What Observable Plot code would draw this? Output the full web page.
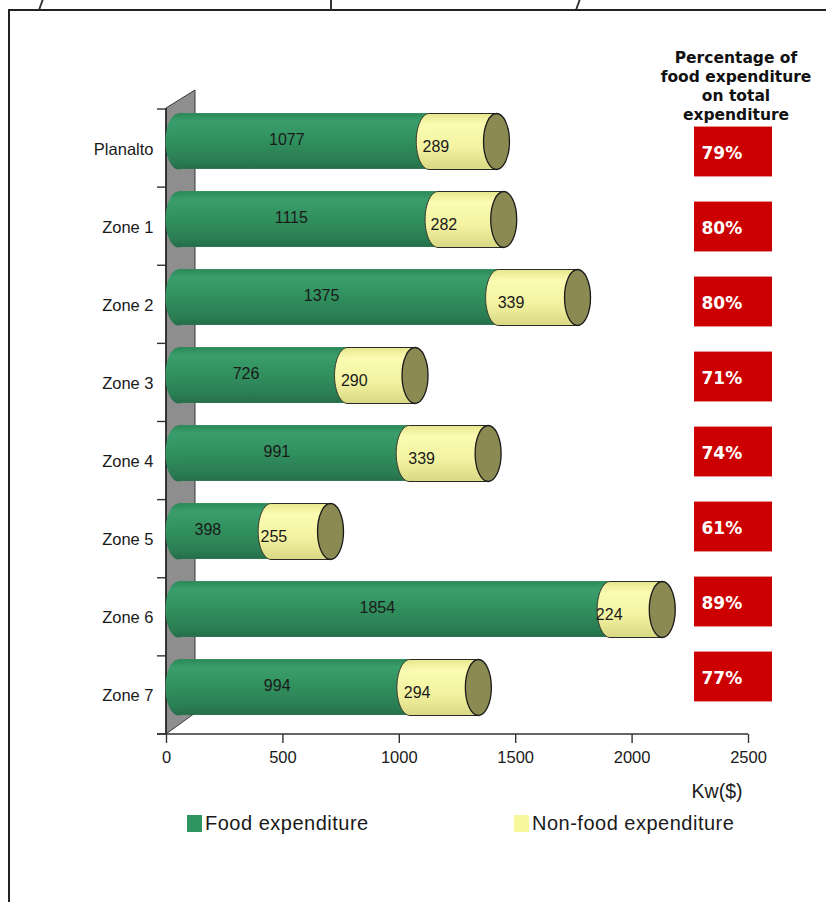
<!DOCTYPE html>
<html>
<head>
<meta charset="utf-8">
<script src="https://cdn.jsdelivr.net/npm/d3@7"></script>
<script src="https://cdn.jsdelivr.net/npm/@observablehq/plot@0.6"></script>
<style>
  html, body { margin: 0; padding: 0; background: #fff; }
  #page { position: relative; width: 826px; height: 902px; overflow: hidden;
          font-family: "Liberation Sans", Arial, sans-serif; color: #1a1a1a; }
  #page svg { position: absolute; left: 0; top: 0; }
  #frame { position: absolute; left: 8px; top: 9px; width: 830px; height: 900px;
           border-top: 2px solid #222; border-left: 2px solid #222; }
  .nick { position: absolute; top: 0; width: 1.5px; height: 9px; background: #333; }
  #shareTitle { position: absolute; left: 646px; width: 180px; top: 49px; text-align: center;
                font-family: "DejaVu Sans", Verdana, sans-serif; font-weight: bold;
                font-size: 15.5px; line-height: 19px; color: #111; }
  .legend { position: absolute; top: 811px; height: 24px; display: flex; align-items: center;
            font-size: 20px; letter-spacing: 0.5px; color: #1a1a1a; }
  .legend i { display: inline-block; width: 15px; height: 17px; margin-right: 3px; }
</style>
</head>
<body>
<div id="page">
  <div id="chart"></div>
  <div id="shares"></div>
  <div id="frame"></div>
  <div class="nick" style="left:40px;transform:skewX(-20deg)"></div>
  <div class="nick" style="left:330px;height:10px"></div>
  <div class="nick" style="left:577px;transform:skewX(-20deg)"></div>
  <div id="shareTitle">Percentage of<br>food expenditure<br>on total<br>expenditure</div>
  <div class="legend" style="left:187px"><i style="background:#2e9460"></i>Food expenditure</div>
  <div class="legend" style="left:514px"><i style="background:#f7f79c"></i>Non-food expenditure</div>
</div>
<script>
// Household expenditure by zone, Kw($)
const zones = ["Planalto", "Zone 1", "Zone 2", "Zone 3", "Zone 4", "Zone 5", "Zone 6", "Zone 7"];
const foodExpenditure = [1077, 1115, 1375, 726, 991, 398, 1854, 994];
const nonFoodExpenditure = [289, 282, 339, 290, 339, 255, 224, 294];
const foodShare = [79, 80, 80, 71, 74, 61, 89, 77];   // % of food expenditure on total
const xTicks = [0, 500, 1000, 1500, 2000, 2500];

const rows = zones.map((zone, i) => ({
  zone,
  food: foodExpenditure[i],
  nonFood: nonFoodExpenditure[i],
  total: foodExpenditure[i] + nonFoodExpenditure[i],
  share: foodShare[i]
}));

// page geometry
const W = 826, H = 902;
const M = {left: 166, right: 78, top: 109, bottom: 168};
const DX = 12, DY = -8;          // cylinders sit in front of the back wall
const BAR_H = 56;                // cylinder diameter
const STEP = (H - M.top - M.bottom) / zones.length;
const INSET = (STEP - BAR_H) / 2;
const CAP_RX = 13;

// elliptical cross-section of a cylinder, sized by r (= vertical radius)
const K = 0.5523;
const ellipse = {
  draw(context, size) {
    const ry = Math.sqrt(size / Math.PI), rx = CAP_RX;
    context.moveTo(rx, 0);
    context.bezierCurveTo(rx, K * ry, K * rx, ry, 0, ry);
    context.bezierCurveTo(-K * rx, ry, -rx, K * ry, -rx, 0);
    context.bezierCurveTo(-rx, -K * ry, -K * rx, -ry, 0, -ry);
    context.bezierCurveTo(K * rx, -ry, rx, -K * ry, rx, 0);
    context.closePath();
  }
};

// shaded fills for the cylinders
function gradients() {
  const defs = d3.create("svg:defs");
  const add = (id, stops) => {
    const g = defs.append("linearGradient").attr("id", id)
      .attr("x1", 0).attr("y1", 0).attr("x2", 0).attr("y2", 1);
    for (const [o, c] of stops) g.append("stop").attr("offset", o).attr("stop-color", c);
  };
  add("gGreen", [[0, "#2b8858"], [0.15, "#3a9e6c"], [0.45, "#32925f"], [0.85, "#2a7d53"], [1, "#246e49"]]);
  add("gYellow", [[0, "#e6e68c"], [0.2, "#fbfbb2"], [0.6, "#f3f3a2"], [1, "#d9d984"]]);
  return defs.node();
}

// grey back wall, category dividers and baseline
function backWall(index, scales, values, dimensions) {
  const x0 = scales.x(0), x1 = scales.x(xTicks[xTicks.length - 1]);
  const yTop = dimensions.marginTop, yBot = dimensions.height - dimensions.marginBottom;
  const g = d3.create("svg:g");
  g.append("path")
    .attr("d", `M${x0},${yTop - 1}L${x0 + 29},${yTop - 19}L${x0 + 29},${yBot - 21}L${x0},${yBot}Z`)
    .attr("fill", "#8e8e8e").attr("stroke", "#3a3a3a").attr("stroke-width", 1);
  g.append("line").attr("x1", x0).attr("x2", x0).attr("y1", yTop - 1).attr("y2", yBot)
    .attr("stroke", "#222").attr("stroke-width", 1.6);
  for (let k = 0; k <= zones.length; k++) {
    const y = yTop + k * (yBot - yTop) / zones.length;
    g.append("line").attr("x1", x0 - 9).attr("x2", x0).attr("y1", y).attr("y2", y)
      .attr("stroke", "#333").attr("stroke-width", 1.4);
  }
  g.append("line").attr("x1", x0 - 9).attr("x2", x1).attr("y1", yBot).attr("y2", yBot)
    .attr("stroke", "#333").attr("stroke-width", 1.6);
  return g.node();
}

const common = {y: "zone", dy: DY};

const chart = Plot.plot({
  width: W, height: H,
  marginLeft: M.left, marginRight: M.right, marginTop: M.top, marginBottom: M.bottom,
  style: {fontFamily: "Liberation Sans, Arial, sans-serif", fontSize: "16px", color: "#1a1a1a", background: "transparent"},
  x: {domain: [0, 2500]},
  y: {type: "band", domain: zones, padding: 0},
  marks: [
    gradients,
    backWall,
    Plot.axisX({ticks: xTicks, tickSize: 9, tickPadding: 8, tickFormat: d => String(d), label: null, fontSize: 16.5, stroke: "#333", strokeWidth: 1.4}),
    Plot.axisY({tickSize: 0, tickPadding: 13, label: null, fontSize: 16.5}),
    // food segment: rounded left end + body
    Plot.dot(rows, {...common, x: () => 0, dx: DX, r: BAR_H / 2, symbol: ellipse, fill: "url(#gGreen)"}),
    Plot.barX(rows, {...common, x1: () => 0, x2: "food", dx: DX, insetTop: INSET, insetBottom: INSET, fill: "url(#gGreen)"}),
    // non-food segment: visible seam, body, outlines and end cap
    Plot.dot(rows, {...common, x: "food", dx: DX, r: BAR_H / 2, symbol: ellipse, fill: "url(#gYellow)", stroke: "#3a3a2a", strokeWidth: 1}),
    Plot.barX(rows, {...common, x1: "food", x2: "total", dx: DX, insetTop: INSET, insetBottom: INSET, fill: "url(#gYellow)"}),
    Plot.ruleY(rows, {...common, x1: "food", x2: "total", dx: DX, dy: DY - BAR_H / 2, stroke: "#2a2a2a", strokeWidth: 1}),
    Plot.ruleY(rows, {...common, x1: "food", x2: "total", dx: DX, dy: DY + BAR_H / 2, stroke: "#2a2a2a", strokeWidth: 1}),
    Plot.dot(rows, {...common, x: "total", dx: DX, r: BAR_H / 2, symbol: ellipse, fill: "#8b8a52", stroke: "#1a1a1a", strokeWidth: 1.3}),
    // value labels
    Plot.text(rows, {y: "zone", x: d => d.food / 2, text: d => String(d.food), dx: -5, dy: DY - 2, fontSize: 16, fill: "#1a1a1a"}),
    Plot.text(rows, {y: "zone", x: d => d.food + d.nonFood / 2, text: d => String(d.nonFood), dx: -15, dy: DY + 5, fontSize: 16, fill: "#1a1a1a"}),
    Plot.text(["Kw($)"], {frameAnchor: "bottom-right", lineAnchor: "middle", dx: -6, dy: 57, fontSize: 19.5, fill: "#1a1a1a"})
  ]
});
document.getElementById("chart").appendChild(chart);

// red share column: its own row bands, running from just under the heading to the last row
const SHARE_TOP = 113.4, SHARE_BOTTOM = 714.6, SHARE_BOX = 50;
const SHARE_INSET = ((SHARE_BOTTOM - SHARE_TOP) / zones.length - SHARE_BOX) / 2;
const shares = Plot.plot({
  width: W, height: H,
  marginLeft: 694, marginRight: W - 772, marginTop: SHARE_TOP, marginBottom: H - SHARE_BOTTOM,
  style: {background: "transparent"},
  x: {type: "band", domain: ["share"], padding: 0, axis: null},
  y: {type: "band", domain: zones, padding: 0, axis: null},
  marks: [
    Plot.cell(rows, {x: () => "share", y: "zone", insetTop: SHARE_INSET, insetBottom: SHARE_INSET, fill: "#cc0000"}),
    Plot.text(rows, {x: () => "share", y: "zone", text: d => d.share + "%", dx: -32, dy: 2,
      textAnchor: "start", fill: "white", fontWeight: "bold", fontSize: 17, fontFamily: "DejaVu Sans, Verdana, sans-serif"})
  ]
});
document.getElementById("shares").appendChild(shares);
</script>
</body>
</html>
